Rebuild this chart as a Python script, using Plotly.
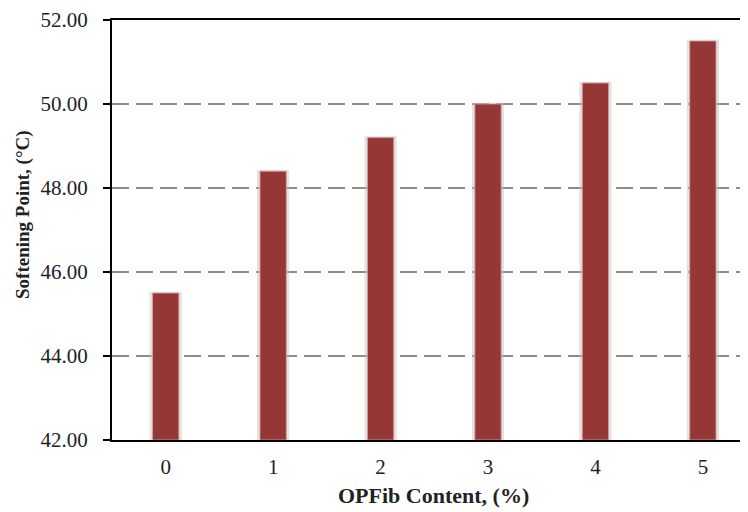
import plotly.graph_objects as go

categories = ["0", "1", "2", "3", "4", "5"]
softening_point = [45.5, 48.4, 49.2, 50.0, 50.5, 51.5]
y_ticks = [42, 44, 46, 48, 50, 52]
x_title = "<b>OPFib Content, (%)</b>"
y_title = "<b>Softening Point, (°C)</b>"

xpos = list(range(len(categories)))
base = 42

fig = go.Figure()
# soft glow/shadow behind bars
fig.add_trace(go.Bar(
    x=xpos, y=[v - base + 0.03 for v in softening_point], base=base,
    width=0.30, marker=dict(color="rgba(190,190,190,0.45)", line=dict(width=0)),
    hoverinfo="skip", showlegend=False))
fig.add_trace(go.Bar(
    x=xpos, y=[v - base for v in softening_point], base=base,
    width=0.245, marker=dict(color="#953735", line=dict(color="#d9a3a2", width=0.8)),
    showlegend=False))

font_family = "Liberation Serif"
tick_font = dict(size=21, family=font_family, color="#222")

fig.update_layout(
    width=740, height=504,
    margin=dict(l=104, r=0, t=12, b=72, autoexpand=False),
    paper_bgcolor="white", plot_bgcolor="white",
    barmode="overlay",
    font=dict(family=font_family, color="#222"),
    xaxis=dict(
        range=[-0.5, 5.42],
        tickmode="array", tickvals=xpos, ticktext=categories,
        tickfont=tick_font, ticklabelstandoff=7, ticklabeloverflow="allow",
        showline=True, linecolor="black", linewidth=2, mirror=True,
        showgrid=False, ticks="",
    ),
    yaxis=dict(
        range=[42, 52],
        tickmode="array", tickvals=y_ticks, ticktext=[f"{t:.2f}" for t in y_ticks],
        tickfont=tick_font, ticklabelstandoff=11, ticklabeloverflow="allow",
        showline=True, linecolor="black", linewidth=2,
        ticks="outside", ticklen=7, tickwidth=2, tickcolor="black",
        showgrid=True, gridcolor="#8c8c8c", gridwidth=2, griddash="17px,7px",
        zeroline=False,
    ),
    annotations=[
        dict(text=x_title, xref="paper", yref="paper", x=0.505, y=-0.132,
             xanchor="center", yanchor="middle", showarrow=False,
             font=dict(size=22, family=font_family, color="#222")),
        dict(text=y_title, xref="paper", yref="paper", x=-0.14, y=0.538,
             xanchor="center", yanchor="middle", showarrow=False, textangle=-90,
             font=dict(size=19, family=font_family, color="#222")),
    ],
)

fig.write_html("out.html")
